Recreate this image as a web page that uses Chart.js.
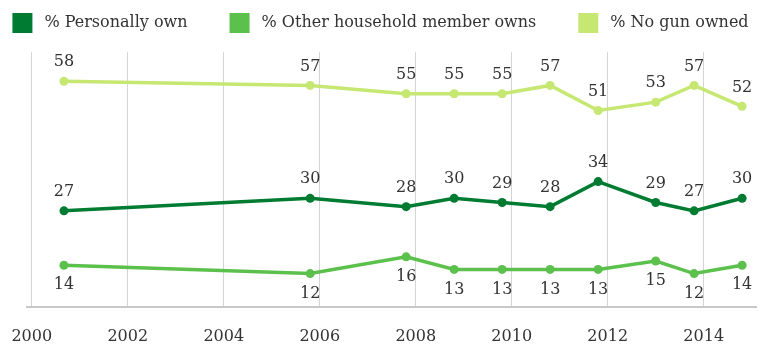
<!DOCTYPE html>
<html>
<head>
<meta charset="utf-8">
<script src="https://cdn.jsdelivr.net/npm/chart.js@4/dist/chart.umd.min.js"></script>
<style>
    html, body { margin: 0; padding: 0; background: #fff; }
    #wrap { width: 761px; height: 345px; position: relative; }
</style>
</head>
<body>
<div id="wrap"><canvas id="chart"></canvas></div>
<script>
// survey dates as decimal years
var pollDates = [2000.67, 2005.8, 2007.8, 2008.8, 2009.8, 2010.8, 2011.8, 2013.0, 2013.8, 2014.8];
var personallyOwn = [27, 30, 28, 30, 29, 28, 34, 29, 27, 30];
var otherMemberOwns = [14, 12, 16, 13, 13, 13, 13, 15, 12, 14];
var noGunOwned = [58, 57, 55, 55, 55, 57, 51, 53, 57, 52];
var yearTicks = [2000, 2002, 2004, 2006, 2008, 2010, 2012, 2014];
var seriesNames = ['% Personally own', '% Other household member owns', '% No gun owned'];

var serif = "'DejaVu Serif', 'Liberation Serif', serif";

function points(values)
{
    return values.map(function (v, i)
    {
        return { x: pollDates[i], y: v };
    });
}

function series(name, values, colour, below)
{
    return {
        label: name,
        data: points(values),
        borderColor: colour,
        backgroundColor: colour,
        pointBackgroundColor: colour,
        pointBorderWidth: 0,
        pointRadius: 4.5,
        borderWidth: 3.5,
        tension: 0,
        labelBelow: below
    };
}

// draws the value next to every point
var valueLabels = {
    id: 'valueLabels',
    afterDatasetsDraw: function (chart)
    {
        var ctx = chart.ctx;
        ctx.save();
        ctx.font = '16px ' + serif;
        ctx.fillStyle = '#333';
        ctx.textAlign = 'center';
        ctx.textBaseline = 'middle';

        chart.data.datasets.forEach(function (ds, i)
        {
            var meta = chart.getDatasetMeta(i);
            meta.data.forEach(function (pt, j)
            {
                var dy = ds.labelBelow ? 20 : -19;
                ctx.fillText(ds.data[j].y, pt.x, pt.y + dy);
            });
        });
        ctx.restore();
    }
};

// legend row across the top, spaced like the original
var topLegend = {
    id: 'topLegend',
    afterDraw: function (chart)
    {
        var ctx = chart.ctx, box = 20, gap = 12, spacing = 42;
        ctx.save();
        ctx.font = '16px ' + serif;
        ctx.textBaseline = 'middle';

        var widths = chart.data.datasets.map(function (ds)
        {
            return box + gap + ctx.measureText(ds.label).width;
        });
        var total = widths.reduce(function (a, b) { return a + b; }, 0) + spacing * (widths.length - 1);
        var x = (chart.width - total) / 2, y = 13;

        chart.data.datasets.forEach(function (ds, i)
        {
            ctx.fillStyle = ds.backgroundColor;
            ctx.fillRect(x, y, box, box);
            ctx.fillStyle = '#333';
            ctx.fillText(ds.label, x + box + gap, y + box / 2);
            x += widths[i] + spacing;
        });
        ctx.restore();
    }
};

new Chart(document.getElementById('chart'), {
    type: 'line',
    data: {
        datasets: [
            series(seriesNames[0], personallyOwn, '#007b32', false),
            series(seriesNames[1], otherMemberOwns, '#5cc04c', true),
            series(seriesNames[2], noGunOwned, '#c6e772', false)
        ]
    },
    options: {
        responsive: true,
        maintainAspectRatio: false,
        animation: false,
        layout: { padding: { left: 27, right: 4, top: 52, bottom: 2 } },
        plugins: {
            legend: { display: false },
            tooltip: { enabled: false }
        },
        scales: {
            x: {
                type: 'linear',
                min: 1999.9,
                max: 2015.1,
                afterBuildTicks: function (axis)
                {
                    axis.ticks = yearTicks.map(function (y) { return { value: y }; });
                },
                afterFit: function (axis)
                {
                    axis.height = 36;
                    axis.paddingLeft = 0;
                    axis.paddingRight = 0;
                },
                ticks: {
                    color: '#333',
                    padding: 20,
                    font: { family: serif, size: 16 },
                    callback: function (v) { return String(v); }
                },
                grid: { color: '#d4d4d4', lineWidth: 1, drawTicks: false },
                border: { color: '#c8c8c8', width: 2 }
            },
            y: {
                display: false,
                min: 4,
                max: 65
            }
        }
    },
    plugins: [valueLabels, topLegend]
});
</script>
</body>
</html>
